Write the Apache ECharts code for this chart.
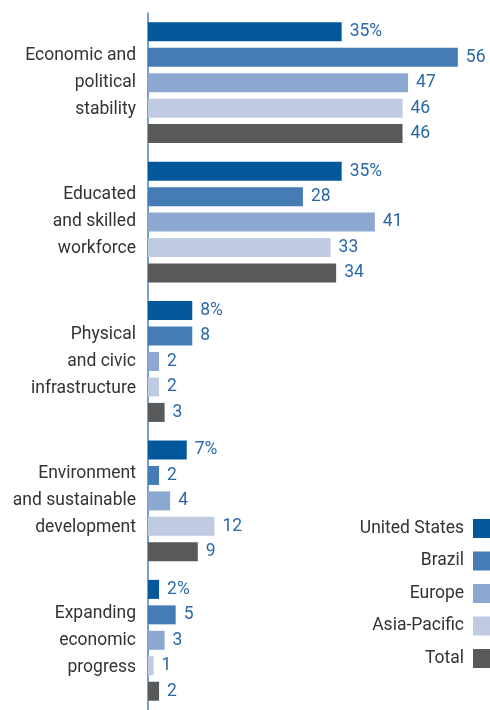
<!DOCTYPE html>
<html>
<head>
<meta charset="utf-8">
<script src="https://cdn.jsdelivr.net/npm/echarts@6/dist/echarts.min.js"></script>
<style>
  html, body { margin: 0; padding: 0; background: #fff; }
  #chart { width: 490px; height: 710px; }
</style>
</head>
<body>
<div id="chart"></div>
<script>
const categories = [
  'Economic and\npolitical\nstability',
  'Educated\nand skilled\nworkforce',
  'Physical\nand civic\ninfrastructure',
  'Environment\nand sustainable\ndevelopment',
  'Expanding\neconomic\nprogress'
];
const seriesNames = ['United States', 'Brazil', 'Europe', 'Asia-Pacific', 'Total'];
const unitedStates = [35, 35, 8, 7, 2];
const brazil = [56, 28, 8, 2, 5];
const europe = [47, 41, 2, 4, 3];
const asiaPacific = [46, 33, 2, 12, 1];
const total = [46, 34, 3, 9, 2];

const colors = ['#02589b', '#467cb5', '#8ca8d0', '#bfcae3', '#58595b'];
const values = [unitedStates, brazil, europe, asiaPacific, total];

const chart = echarts.init(document.getElementById('chart'));

const series = seriesNames.map((name, i) => ({
  name: name,
  type: 'bar',
  data: values[i],
  barWidth: 19,
  barGap: '34%',
  itemStyle: { color: colors[i] },
  label: {
    show: true,
    position: 'right',
    distance: 8,
    color: '#2a69a9',
    fontSize: 17.5,
    fontFamily: 'Roboto',
    formatter: p => i === 0 ? p.value + '%' : String(p.value)
  }
}));

chart.setOption({
  animation: false,
  textStyle: { fontFamily: 'Roboto' },
  grid: { left: 148, right: 10, top: 13, bottom: 0 },
  legend: {
    orient: 'vertical',
    right: 0,
    top: 519,
    padding: 0,
    align: 'right',
    itemWidth: 17,
    itemHeight: 19,
    itemGap: 13.5,
    icon: 'rect',
    data: seriesNames,
    textStyle: { fontSize: 17.5, color: '#333', fontFamily: 'Roboto', padding: [0, 4, 0, 0] }
  },
  xAxis: {
    type: 'value',
    min: 0,
    max: 60,
    show: false
  },
  yAxis: {
    type: 'category',
    inverse: true,
    data: categories,
    axisLine: { show: true, lineStyle: { color: '#4a80bd', width: 1.5 } },
    axisTick: { show: false },
    axisLabel: {
      margin: 12,
      fontSize: 17.5,
      lineHeight: 27,
      color: '#333',
      align: 'right',
      fontFamily: 'Roboto'
    }
  },
  series: series
});
</script>
</body>
</html>
